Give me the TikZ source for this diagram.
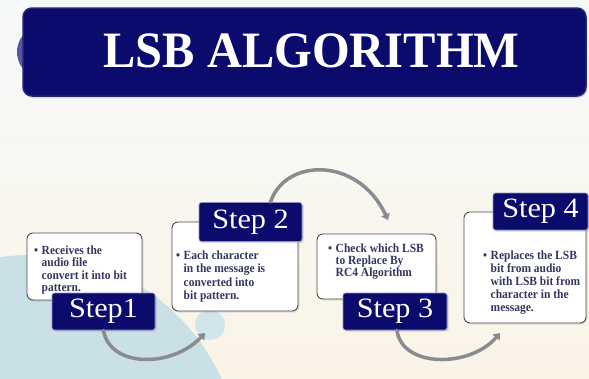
\documentclass[tikz,border=0pt]{standalone}
\usepackage{fontspec}
\setmainfont{Liberation Serif}
\newfontfamily\titlefont[FakeStretch=0.95]{Liberation Serif}
\newfontfamily\stepfont[FakeStretch=1.08]{Liberation Serif}
\newfontfamily\bodyfont[FakeStretch=0.92]{Liberation Serif}
\usetikzlibrary{arrows.meta,shadows}
\definecolor{navy}{HTML}{0B0B6E}
\definecolor{navyedge}{HTML}{23237A}
\definecolor{bgtop}{HTML}{F6F9F9}
\definecolor{bgbot}{HTML}{FAF4E7}
\definecolor{paleblue}{HTML}{C9E0E6}
\definecolor{slateblue}{HTML}{55589E}
\definecolor{bodytext}{HTML}{33365E}
\definecolor{arrowgray}{HTML}{8A8B90}
\definecolor{boxedge}{HTML}{4A4A4A}
\newcommand{\bitem}[2]{{\fontsize{12.5}{#1}\selectfont\bfseries\bodyfont
  \begin{tabular}[t]{@{}l@{\hspace{3.5pt}}l@{}}\textbullet & \begin{tabular}[t]{@{}l@{}}#2\end{tabular}\end{tabular}}}
\tikzset{
  textbox/.style={draw=boxedge, line width=0.9pt, fill=white, rounded corners=6pt,
    drop shadow={opacity=0.2, shadow xshift=1.5pt, shadow yshift=-1.5pt}},
  steplabel/.style={draw=navyedge!50!white, line width=0.8pt, fill=navy, rounded corners=2.5pt,
    text=white, font=\stepfont\fontsize{28}{30}\selectfont,
    drop shadow={opacity=0.3, shadow xshift=1.5pt, shadow yshift=-1.5pt}},
  bodytxt/.style={inner sep=0pt, anchor=base west, text=bodytext, align=left},
  flow/.style={draw=arrowgray, line width=3.5pt, line cap=round,
    -{Triangle[width=9pt,length=6pt]}},
}
\begin{document}
\begin{tikzpicture}[x=1pt,y=-1pt]
\useasboundingbox (0,0) rectangle (589,378);
% background
\shade[top color=bgtop, bottom color=bgbot] (0,0) rectangle (589,378);
\begin{scope}
\clip (0,0) rectangle (589,378);
\fill[paleblue] (30,465) circle (210);
\fill[paleblue!85!white] (210,325) circle (15);
\end{scope}
% title banner
\fill[slateblue] (60,52) ellipse [x radius=43, y radius=33];
\node[draw=navyedge, line width=1.5pt, fill=navy, rounded corners=9pt,
  minimum width=563pt, minimum height=88pt, inner sep=0pt,
  drop shadow={opacity=0.25, shadow xshift=1pt, shadow yshift=-2pt}] (banner) at (304.5,52) {};
\node[anchor=base, text=white, inner sep=0pt,
  font=\titlefont\bfseries\fontsize{51}{55}\selectfont] (title) at (311.5,67) {LSB ALGORITHM};
% text boxes
\node[textbox, minimum width=115pt, minimum height=67pt] (box1) at (84.5,266.5) {};
\node[textbox, minimum width=126pt, minimum height=89pt] (box2) at (235,266.5) {};
\node[textbox, minimum width=119pt, minimum height=65pt] (box3) at (376.5,266.5) {};
\node[textbox, minimum width=122pt, minimum height=111pt] (box4) at (525,267.5) {};
% box texts
\node[bodytxt] (txt1) at (34,254) {\bitem{12.6}{Receives the\\audio file\\convert it into bit\\pattern.}};
\node[bodytxt] (txt2) at (176,259) {\bitem{13.6}{Each character\\in the message is\\converted into\\bit pattern.}};
\node[bodytxt] (txt3) at (328,252) {\bitem{12.2}{Check which LSB\\to Replace By\\RC4 Algorithm}};
\node[bodytxt] (txt4) at (483,259) {\bitem{13}{Replaces the LSB\\bit from audio\\with LSB bit from\\character in the\\message.}};
% step labels
\node[steplabel, minimum width=103pt, minimum height=37pt, inner sep=0pt] (s1) at (103.5,311.5) {Step1};
\node[steplabel, minimum width=103pt, minimum height=39pt, inner sep=0pt] (s2) at (250.5,222) {Step 2};
\node[steplabel, minimum width=104pt, minimum height=37pt, inner sep=0pt] (s3) at (395,311.5) {Step 3};
\node[steplabel, minimum width=95pt, minimum height=37pt, inner sep=0pt] (s4) at (540.5,211.5) {Step 4};
% arrow end points
\coordinate (a1s) at ([xshift=0pt]s1.south);
\coordinate (a1e) at (205,333);
\coordinate (a2s) at ([xshift=20pt]s2.north);
\coordinate (a2e) at (388,220);
\coordinate (a3s) at ([xshift=2pt]s3.south);
\coordinate (a3e) at (500,333);
% arrows
\draw[flow] (a1s) .. controls (110,368) and (172,368) .. (a1e);
\draw[flow] (a2s) .. controls (285,158) and (358,156) .. (a2e);
\draw[flow] (a3s) .. controls (402,368) and (470,368) .. (a3e);
\end{tikzpicture}
\end{document}
